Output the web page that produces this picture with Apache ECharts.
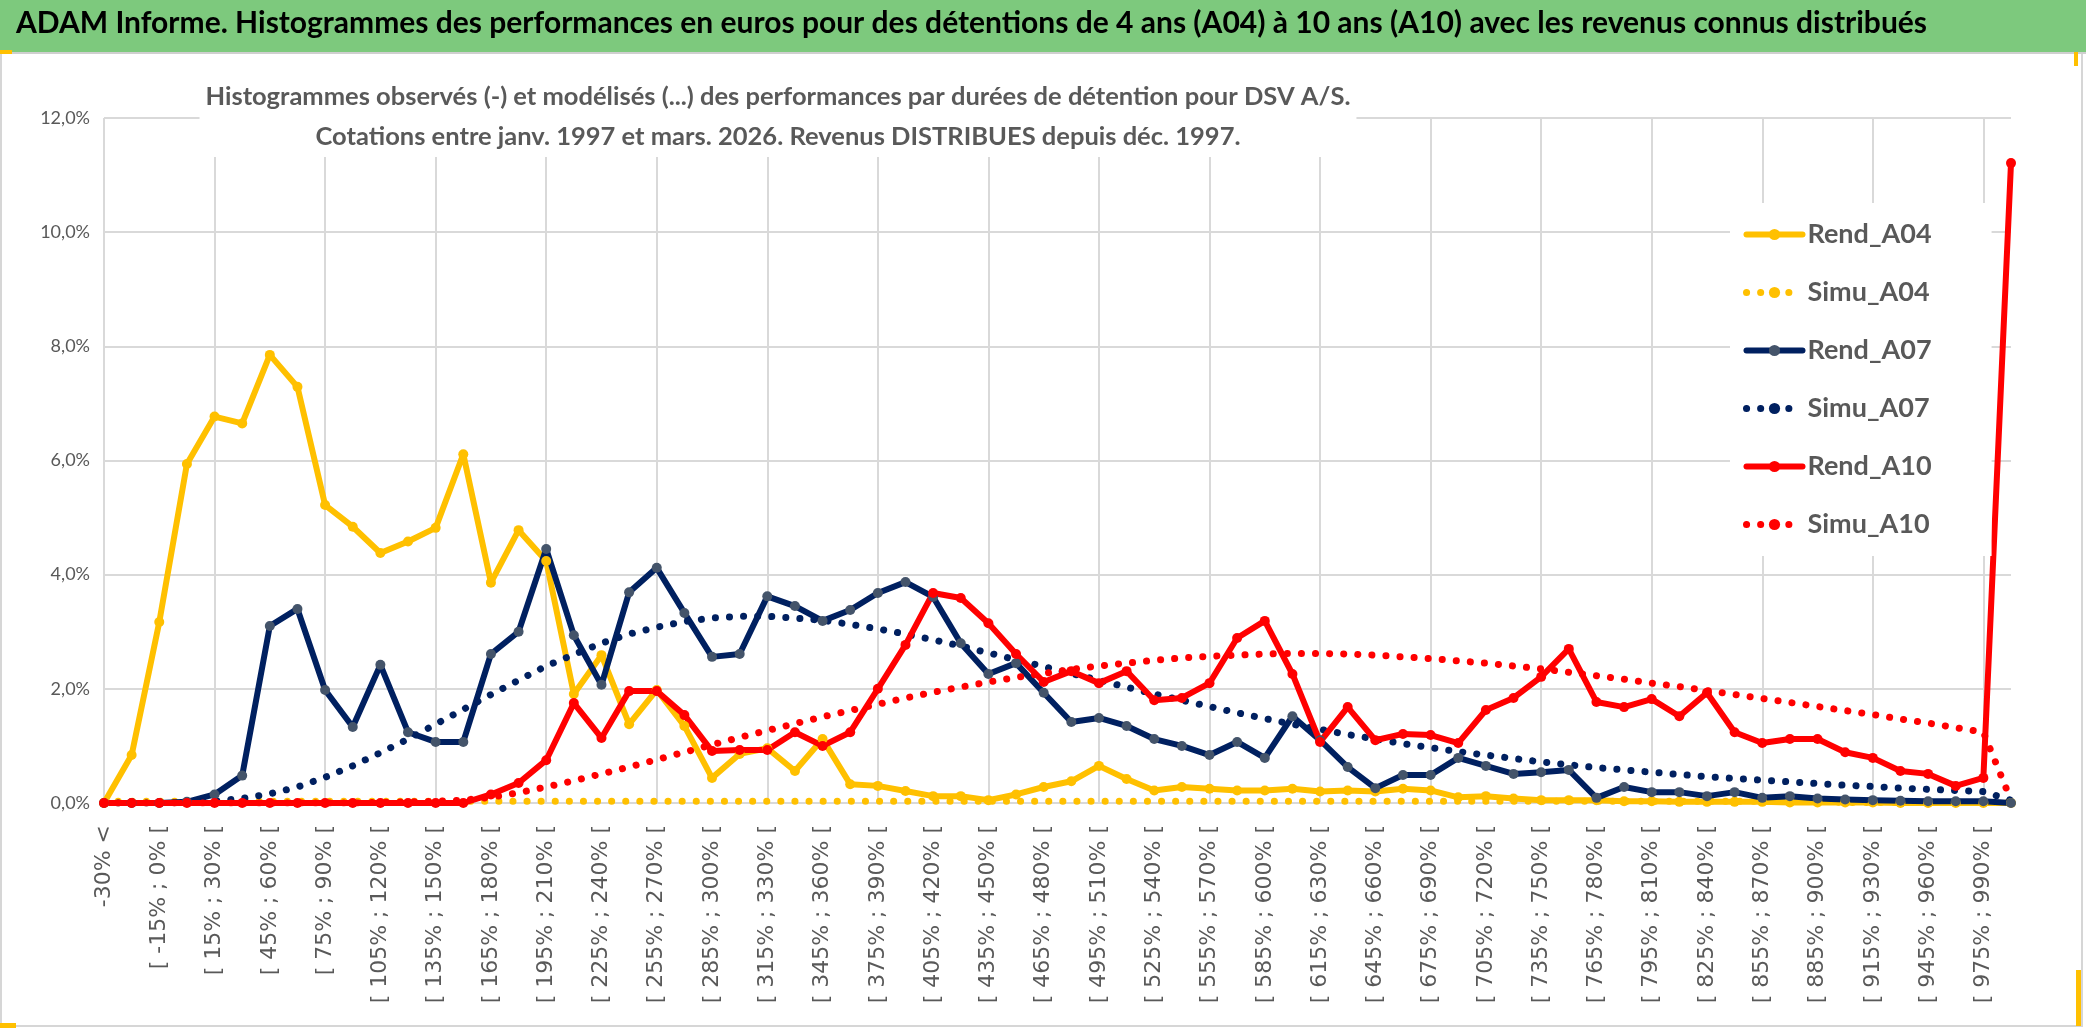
<!DOCTYPE html>
<html>
<head>
<meta charset="utf-8">
<script src="https://cdn.jsdelivr.net/npm/echarts@6/dist/echarts.min.js"></script>
<style>html,body{margin:0;padding:0;background:#fff}#c{width:2086px;height:1031px}</style>
</head>
<body>
<div id="c"></div>
<script>
const categories = ["-30% <","[ -30% ; -15% [","[ -15% ; 0% [","[ 0% ; 15% [","[ 15% ; 30% [","[ 30% ; 45% [","[ 45% ; 60% [","[ 60% ; 75% [","[ 75% ; 90% [","[ 90% ; 105% [",
"[ 105% ; 120% [","[ 120% ; 135% [","[ 135% ; 150% [","[ 150% ; 165% [","[ 165% ; 180% [","[ 180% ; 195% [","[ 195% ; 210% [","[ 210% ; 225% [","[ 225% ; 240% [","[ 240% ; 255% [",
"[ 255% ; 270% [","[ 270% ; 285% [","[ 285% ; 300% [","[ 300% ; 315% [","[ 315% ; 330% [","[ 330% ; 345% [","[ 345% ; 360% [","[ 360% ; 375% [","[ 375% ; 390% [","[ 390% ; 405% [",
"[ 405% ; 420% [","[ 420% ; 435% [","[ 435% ; 450% [","[ 450% ; 465% [","[ 465% ; 480% [","[ 480% ; 495% [","[ 495% ; 510% [","[ 510% ; 525% [","[ 525% ; 540% [","[ 540% ; 555% [",
"[ 555% ; 570% [","[ 570% ; 585% [","[ 585% ; 600% [","[ 600% ; 615% [","[ 615% ; 630% [","[ 630% ; 645% [","[ 645% ; 660% [","[ 660% ; 675% [","[ 675% ; 690% [","[ 690% ; 705% [",
"[ 705% ; 720% [","[ 720% ; 735% [","[ 735% ; 750% [","[ 750% ; 765% [","[ 765% ; 780% [","[ 780% ; 795% [","[ 795% ; 810% [","[ 810% ; 825% [","[ 825% ; 840% [","[ 840% ; 855% [",
"[ 855% ; 870% [","[ 870% ; 885% [","[ 885% ; 900% [","[ 900% ; 915% [","[ 915% ; 930% [","[ 930% ; 945% [","[ 945% ; 960% [","[ 960% ; 975% [","[ 975% ; 990% [","990% <="];

const rendA04 = [0,0.84,3.17,5.94,6.77,6.65,7.85,7.29,5.22,4.84,
4.38,4.58,4.82,6.11,3.86,4.78,4.24,1.91,2.59,1.38,
1.98,1.35,0.44,0.86,0.96,0.56,1.12,0.33,0.30,0.21,
0.12,0.12,0.05,0.15,0.28,0.38,0.65,0.42,0.22,0.28,
0.25,0.22,0.22,0.25,0.20,0.22,0.20,0.25,0.22,0.10,
0.12,0.08,0.05,0.05,0.05,0.03,0.03,0.02,0.02,0.02,
0.02,0.01,0.01,0.01,0.01,0,0,0,0,0];

const simuA04 = [0.03,0.03,0.03,0.03,0.03,0.03,0.03,0.03,0.03,0.03,
0.03,0.03,0.03,0.03,0.03,0.03,0.03,0.03,0.03,0.03,
0.03,0.03,0.03,0.03,0.03,0.03,0.03,0.03,0.03,0.03,
0.03,0.03,0.03,0.03,0.03,0.03,0.03,0.03,0.03,0.03,
0.03,0.03,0.03,0.03,0.03,0.03,0.03,0.03,0.03,0.03,
0.03,0.03,0.03,0.03,0.03,0.03,0.03,0.03,0.03,0.03,
0.03,0.03,0.03,0.01,0.01,0.01,0.01,0.01,0.01,0.01];

const rendA07 = [0,0,0,0.02,0.15,0.48,3.10,3.40,1.98,1.33,
2.42,1.24,1.07,1.07,2.61,3.00,4.45,2.94,2.07,3.69,
4.12,3.33,2.56,2.61,3.62,3.45,3.19,3.38,3.68,3.87,
3.61,2.80,2.26,2.45,1.93,1.42,1.49,1.35,1.12,1.00,
0.84,1.07,0.79,1.52,1.10,0.63,0.26,0.49,0.49,0.79,
0.65,0.51,0.54,0.58,0.09,0.28,0.19,0.19,0.12,0.19,
0.09,0.12,0.08,0.06,0.05,0.04,0.03,0.03,0.03,0];

const simuA07 = [0,0,0,0.01,0.03,0.08,0.16,0.28,0.45,0.65,
0.88,1.12,1.38,1.64,1.90,2.15,2.40,2.60,2.80,2.96,
3.08,3.18,3.24,3.27,3.27,3.24,3.20,3.13,3.05,2.96,
2.86,2.75,2.63,2.51,2.39,2.27,2.15,2.03,1.91,1.80,
1.69,1.58,1.48,1.38,1.29,1.20,1.12,1.04,0.97,0.90,
0.84,0.78,0.72,0.67,0.62,0.58,0.54,0.50,0.46,0.43,
0.40,0.37,0.34,0.31,0.29,0.26,0.24,0.22,0.20,0.05];

const rendA10 = [0,0,0,0,0,0,0,0,0,0,
0,0,0,0,0.15,0.35,0.75,1.75,1.14,1.96,
1.96,1.54,0.91,0.93,0.93,1.24,1.00,1.24,2.00,2.77,
3.68,3.59,3.15,2.61,2.12,2.31,2.10,2.31,1.80,1.84,
2.10,2.89,3.19,2.26,1.07,1.68,1.10,1.21,1.19,1.05,
1.63,1.84,2.21,2.70,1.77,1.68,1.82,1.52,1.93,1.24,
1.05,1.12,1.12,0.89,0.79,0.56,0.51,0.30,0.44,11.21];

const simuA10 = [0,0,0,0,0,0,0,0,0,0,
0.01,0.02,0.03,0.05,0.10,0.18,0.28,0.39,0.51,0.63,
0.76,0.89,1.02,1.15,1.27,1.39,1.51,1.62,1.73,1.84,
1.94,2.03,2.12,2.20,2.27,2.34,2.40,2.45,2.50,2.54,
2.57,2.59,2.61,2.62,2.62,2.61,2.59,2.56,2.53,2.49,
2.45,2.40,2.35,2.29,2.23,2.17,2.10,2.04,1.97,1.90,
1.83,1.76,1.69,1.62,1.55,1.47,1.40,1.32,1.24,0.05];

const yTicks = {min: 0, max: 12, interval: 2};

const HUM = "Lato,'Noto Sans',sans-serif";
const YEL = '#FFC000', NAVY = '#002060', RED = '#FF0000';

function rend(name, data, lineColor, markColor) {
  return {name, type: 'line', data, symbol: 'circle', symbolSize: 10,
    lineStyle: {color: lineColor, width: 6, cap: 'round', join: 'round'},
    itemStyle: {color: markColor, borderWidth: 0},
    emphasis: {disabled: true}, z: 3};
}
function simu(name, data, color) {
  return {name, type: 'line', data, symbol: 'none', showSymbol: false,
    lineStyle: {color, width: 7, type: [0.1, 14], cap: 'round'},
    itemStyle: {color}, emphasis: {disabled: true}, z: 3};
}

const chart = echarts.init(document.getElementById('c'), null, {renderer: 'canvas'});
chart.setOption({
  animation: false,
  backgroundColor: '#fff',
  graphic: [
    {type: 'rect', shape: {x: 1, y: 53, width: 2081, height: 973}, style: {fill: 'none', stroke: '#d6d6d6', lineWidth: 2}, z: -1},
    {type: 'rect', shape: {x: 0, y: 0, width: 2086, height: 52}, style: {fill: '#7DC97D'}, z: -1},
    {type: 'rect', shape: {x: 0, y: 52, width: 2086, height: 2}, style: {fill: '#cfcfcf'}, z: -1},
    {type: 'rect', shape: {x: 0, y: 50, width: 12, height: 4}, style: {fill: YEL}, z: 10},
    {type: 'rect', shape: {x: 2074, y: 52, width: 4, height: 14}, style: {fill: YEL}, z: 10},
    {type: 'rect', shape: {x: 0, y: 1023, width: 16, height: 5}, style: {fill: YEL}, z: 10},
    {type: 'rect', shape: {x: 2076, y: 970, width: 5, height: 56}, style: {fill: YEL}, z: 10}
  ],
  title: [
    {text: 'ADAM Informe. Histogrammes des performances en euros pour des détentions de 4 ans (A04) à 10 ans (A10) avec les revenus connus distribués',
     left: 16, top: 8, padding: 0,
     textStyle: {fontFamily: HUM, fontSize: 30, fontWeight: 'bold', color: '#000'}},
    {text: 'Histogrammes observés (-) et modélisés (...) des performances par durées de détention pour DSV A/S.\nCotations entre janv. 1997 et mars. 2026. Revenus DISTRIBUES depuis déc. 1997.',
     left: 772, textAlign: 'center', top: 77, padding: [0, 6, 0, 6], backgroundColor: '#fff',
     textStyle: {fontFamily: HUM, fontSize: 25.5, fontWeight: 'bold', color: '#595959', lineHeight: 40, align: 'center'}}
  ],
  legend: {
    orient: 'vertical', left: 1730, top: 203, padding: [18, 60, 18, 13],
    backgroundColor: '#fff', itemWidth: 56, itemHeight: 14, itemGap: 31,
    textStyle: {fontFamily: HUM, fontSize: 27, fontWeight: 'bold', color: '#595959', lineHeight: 26},
    lineStyle: {width: 'inherit'},
    data: ['Rend_A04', 'Simu_A04', 'Rend_A07', 'Simu_A07', 'Rend_A10', 'Simu_A10'],
    selectedMode: false
  },
  grid: {left: 104, right: 75, top: 118, bottom: 228, containLabel: false},
  xAxis: {
    type: 'category', data: categories, boundaryGap: false,
    axisLine: {lineStyle: {color: '#d9d9d9', width: 2}},
    axisTick: {show: false},
    axisLabel: {interval: 1, rotate: 90, margin: 22, color: '#595959', fontFamily: 'DejaVu Sans', fontSize: 22},
    splitLine: {show: true, interval: 3, lineStyle: {color: '#d9d9d9', width: 2}}
  },
  yAxis: {
    type: 'value', min: yTicks.min, max: yTicks.max, interval: yTicks.interval,
    axisLine: {show: false}, axisTick: {show: false},
    axisLabel: {margin: 14, color: '#595959', fontFamily: HUM, fontSize: 18,
      formatter: v => v.toFixed(1).replace('.', ',') + '%'},
    splitLine: {lineStyle: {color: '#d9d9d9', width: 2}}
  },
  series: [
    rend('Rend_A04', rendA04, YEL, YEL),
    simu('Simu_A04', simuA04, YEL),
    rend('Rend_A07', rendA07, NAVY, '#44546A'),
    simu('Simu_A07', simuA07, NAVY),
    rend('Rend_A10', rendA10, RED, RED),
    simu('Simu_A10', simuA10, RED)
  ]
});
</script>
</body>
</html>
